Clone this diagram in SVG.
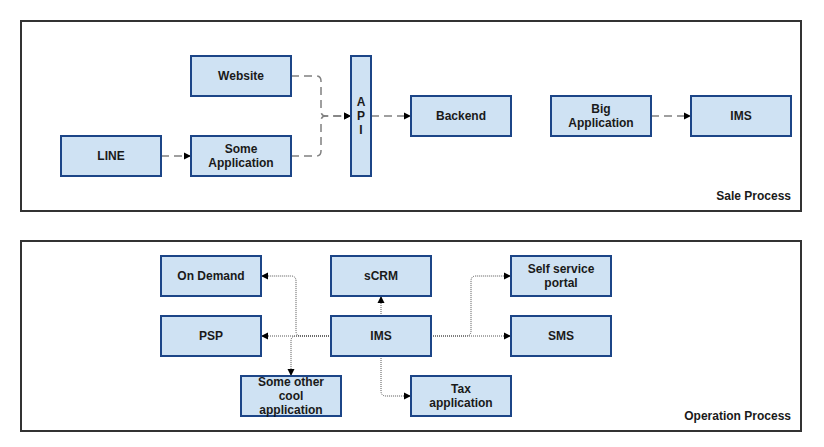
<svg xmlns="http://www.w3.org/2000/svg" width="824" height="447" viewBox="0 0 824 447">
<style>
.frame{fill:#fff;stroke:#333;stroke-width:2}
.node rect{fill:#cfe2f3;stroke:#1c4587;stroke-width:2}
text{font-family:"Liberation Sans",Arial,sans-serif;font-weight:bold;font-size:12px;fill:#1a1a1a;text-anchor:middle}
.lbl{text-anchor:end}
.dash{fill:none;stroke:#808080;stroke-width:1.5;stroke-dasharray:8 5}
.dot{fill:none;stroke:#555;stroke-width:1;stroke-dasharray:1 1}
</style>
<defs>
<marker id="ah" markerWidth="8" markerHeight="8" refX="7" refY="4" orient="auto" markerUnits="userSpaceOnUse">
<path d="M0,0.5 L7,4 L0,7.5 Z" fill="#000"/>
</marker>
</defs>
<rect width="824" height="447" fill="#fff"/>
<g id="sale-process">
<rect class="frame" x="21" y="21" width="780" height="190"/>
<text class="lbl" x="791" y="200">Sale Process</text>
</g>
<g id="operation-process">
<rect class="frame" x="21" y="241" width="780" height="190"/>
<text class="lbl" x="791" y="420">Operation Process</text>
</g>
<g id="connectors">
<path class="dash" d="M161,156 L191,156" marker-end="url(#ah)"/>
<path class="dash" d="M291,76 L316,76 Q321,76 321,81 L321,111 Q321,116 326,116 L351,116" marker-end="url(#ah)"/>
<path class="dash" d="M291,156 L316,156 Q321,156 321,151 L321,121 Q321,116 326,116 L351,116" marker-end="url(#ah)"/>
<path class="dash" d="M371,116 L411,116" marker-end="url(#ah)"/>
<path class="dash" d="M651,116 L691,116" marker-end="url(#ah)"/>
<path class="dot" d="M381,316 L381,296" marker-end="url(#ah)"/>
<path class="dot" d="M331,336 L261,336" marker-end="url(#ah)"/>
<path class="dot" d="M331,336 L301,336 Q296,336 296,331 L296,281 Q296,276 291,276 L261,276" marker-end="url(#ah)"/>
<path class="dot" d="M331,336 L296,336 Q291,336 291,341 L291,376" marker-end="url(#ah)"/>
<path class="dot" d="M381,356 L381,391 Q381,396 386,396 L411,396" marker-end="url(#ah)"/>
<path class="dot" d="M431,336 L466,336 Q471,336 471,331 L471,281 Q471,276 476,276 L511,276" marker-end="url(#ah)"/>
<path class="dot" d="M431,336 L511,336" marker-end="url(#ah)"/>
</g>
<g id="website" class="node"><rect x="191" y="56" width="100" height="40"/><text x="241" y="80">Website</text></g>
<g id="some-application" class="node"><rect x="191" y="136" width="100" height="40"/><text x="241" y="153">Some</text><text x="241" y="167">Application</text></g>
<g id="line" class="node"><rect x="61" y="136" width="100" height="40"/><text x="111" y="160">LINE</text></g>
<g id="api" class="node"><rect x="351" y="56" width="20" height="120"/><text x="361" y="106">A</text><text x="361" y="120">P</text><text x="361" y="134">I</text></g>
<g id="backend" class="node"><rect x="411" y="96" width="100" height="40"/><text x="461" y="120">Backend</text></g>
<g id="big-application" class="node"><rect x="551" y="96" width="100" height="40"/><text x="601" y="113">Big</text><text x="601" y="127">Application</text></g>
<g id="ims-sale" class="node"><rect x="691" y="96" width="100" height="40"/><text x="741" y="120">IMS</text></g>
<g id="on-demand" class="node"><rect x="161" y="256" width="100" height="40"/><text x="211" y="280">On Demand</text></g>
<g id="scrm" class="node"><rect x="331" y="256" width="100" height="40"/><text x="381" y="280">sCRM</text></g>
<g id="self-service-portal" class="node"><rect x="511" y="256" width="100" height="40"/><text x="561" y="273">Self service</text><text x="561" y="287">portal</text></g>
<g id="psp" class="node"><rect x="161" y="316" width="100" height="40"/><text x="211" y="340">PSP</text></g>
<g id="ims" class="node"><rect x="331" y="316" width="100" height="40"/><text x="381" y="340">IMS</text></g>
<g id="sms" class="node"><rect x="511" y="316" width="100" height="40"/><text x="561" y="340">SMS</text></g>
<g id="some-other-cool-application" class="node"><rect x="241" y="376" width="100" height="40"/><text x="291" y="386">Some other</text><text x="291" y="400">cool</text><text x="291" y="414">application</text></g>
<g id="tax-application" class="node"><rect x="411" y="376" width="100" height="40"/><text x="461" y="393">Tax</text><text x="461" y="407">application</text></g>
</svg>
